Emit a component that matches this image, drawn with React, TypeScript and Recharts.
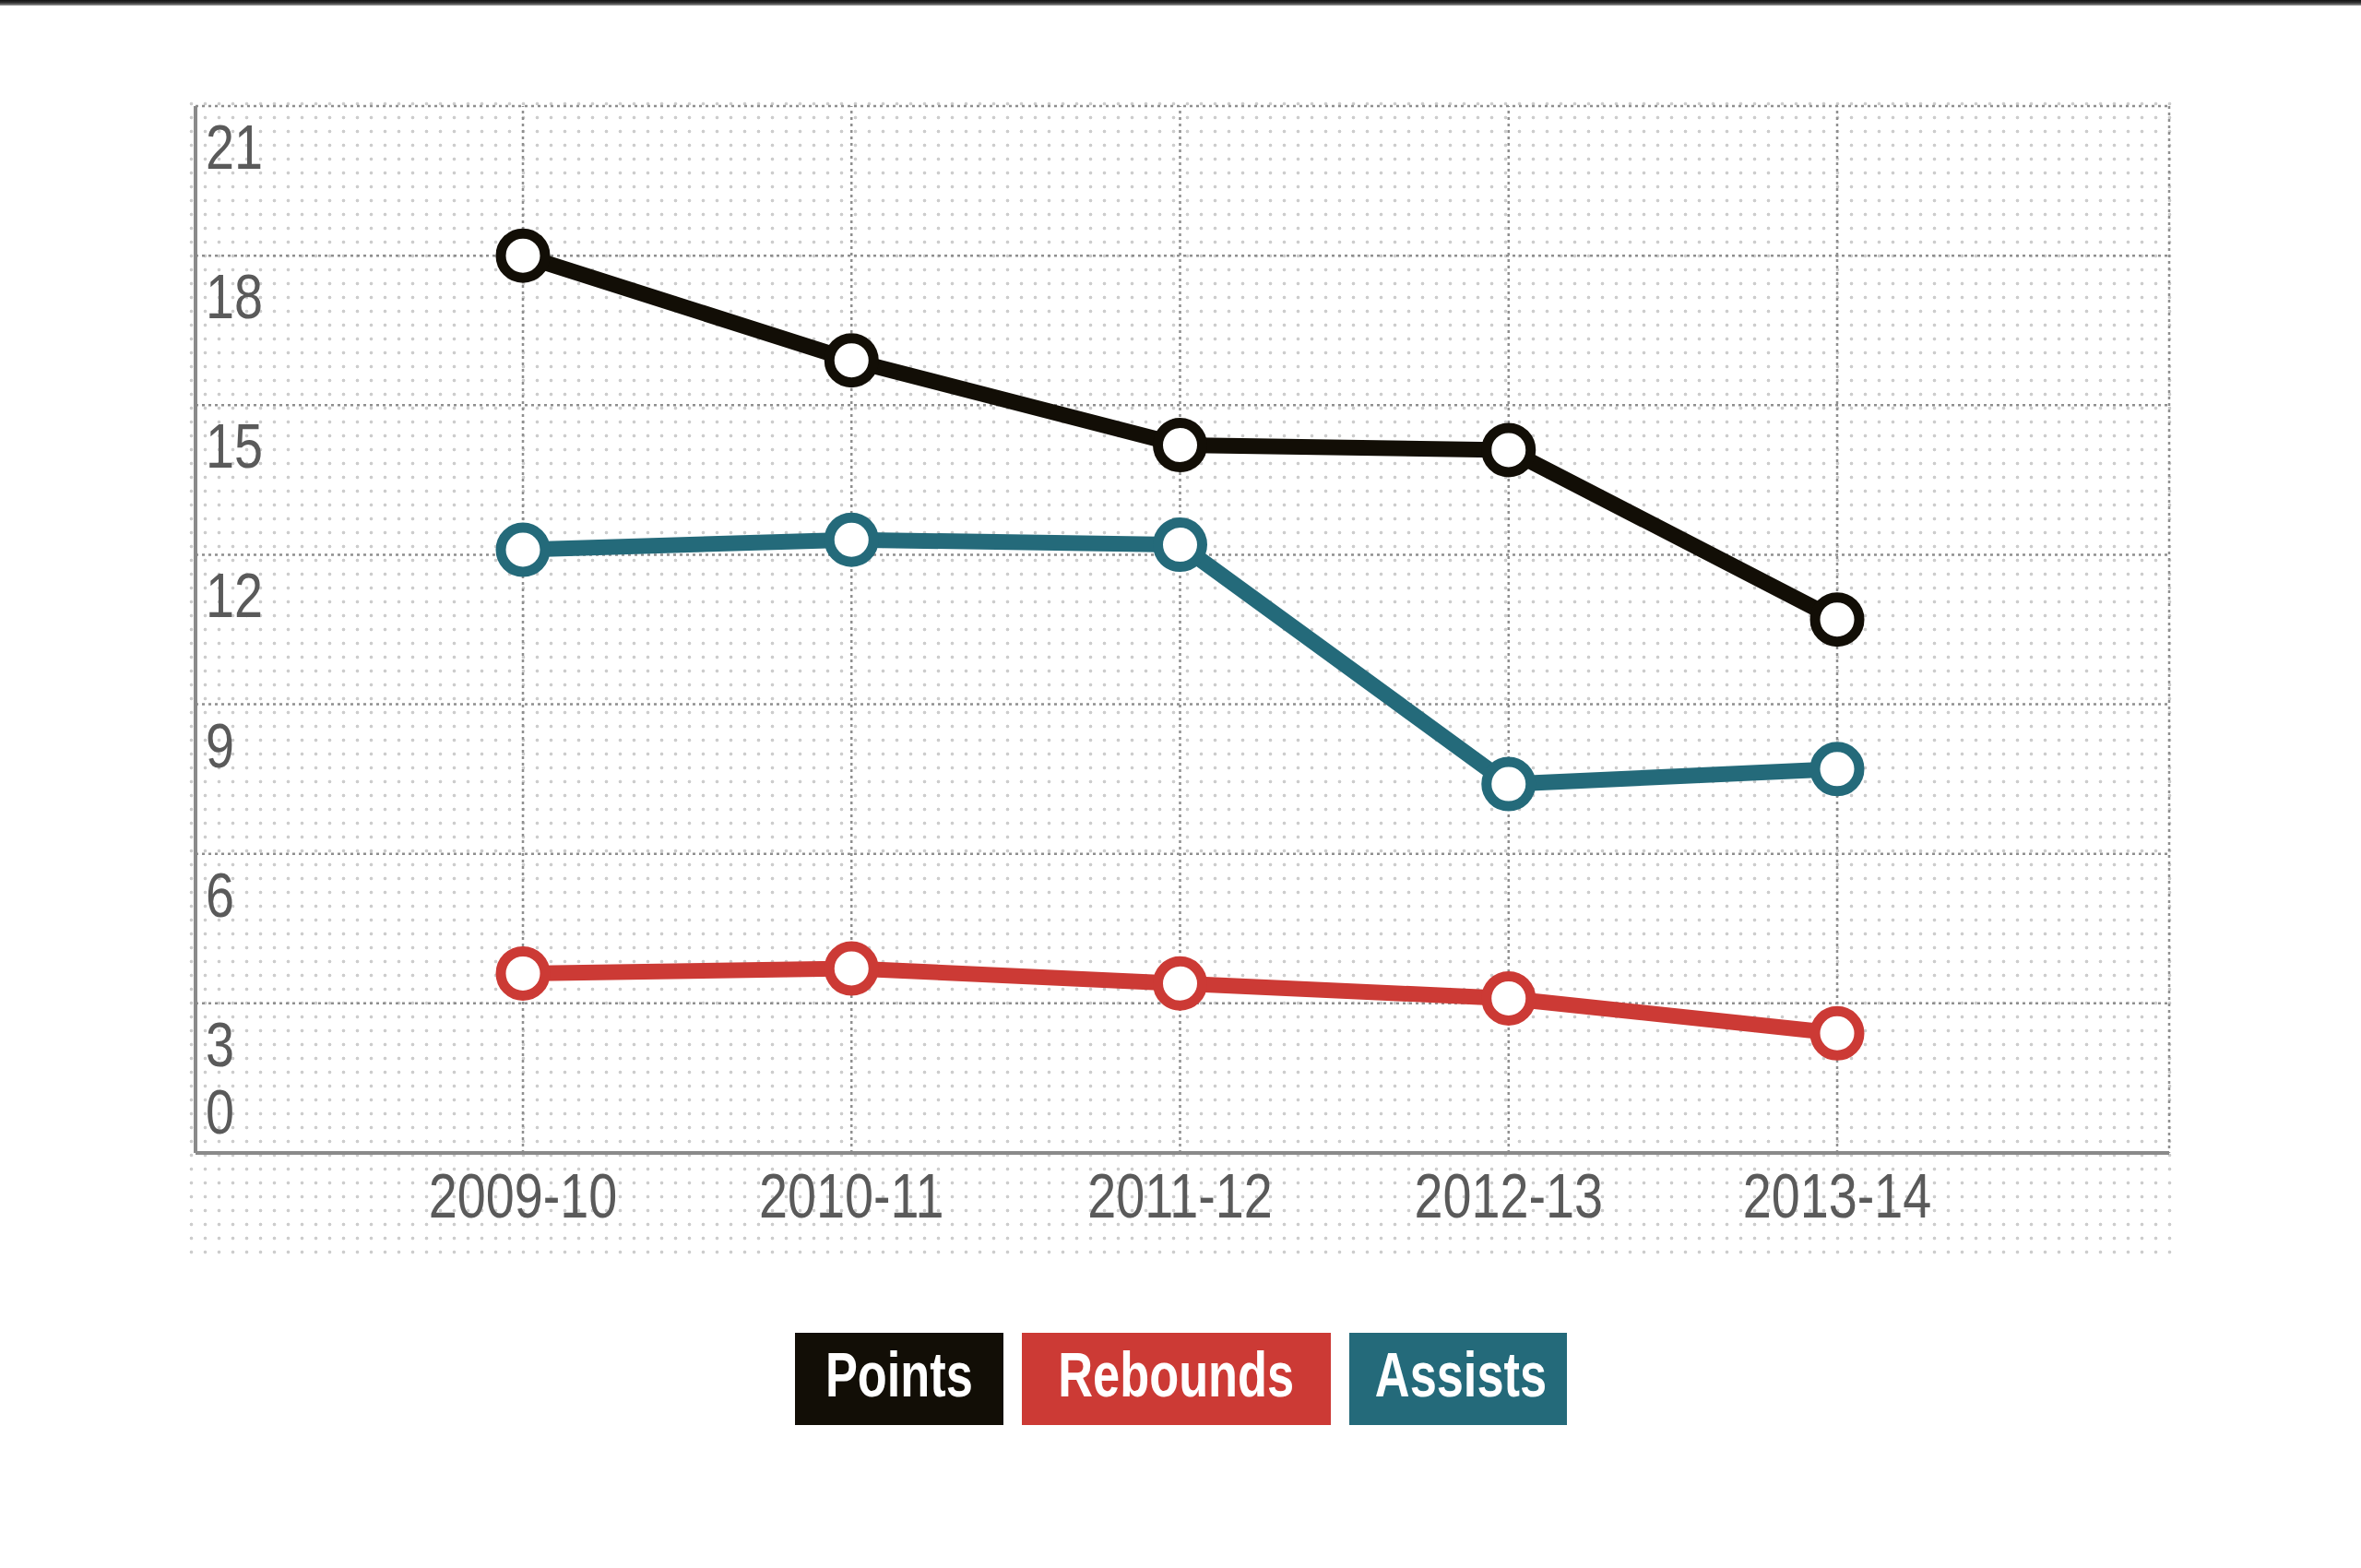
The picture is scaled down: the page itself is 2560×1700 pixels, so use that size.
import React from 'react';
import { LineChart, Line, XAxis, YAxis, CartesianGrid, Legend, ReferenceLine } from 'recharts';

const seasons = ['2009-10', '2010-11', '2011-12', '2012-13', '2013-14'];
const points = [18.0, 15.9, 14.2, 14.1, 10.7];
const rebounds = [3.6, 3.7, 3.4, 3.1, 2.4];
const assists = [12.1, 12.3, 12.2, 7.4, 7.7];
const yTicks = [0, 3, 6, 9, 12, 15, 18, 21];
const seriesOrder = ['Points', 'Rebounds', 'Assists'];

const data = seasons.map((s, i) => ({
  season: s,
  Points: points[i],
  Rebounds: rebounds[i],
  Assists: assists[i],
}));

const FONT = '"Liberation Sans", Arial, sans-serif';
const TEXT = '#5a5a5a';
const NARROW = 0.82;
const GRID = '#8f8f8f';
const C_POINTS = '#120e06';
const C_REB = '#cc3a35';
const C_AST = '#246a7a';
const legendWidths: Record<string, number> = { Points: 226, Rebounds: 335, Assists: 236 };

const YTick = (props: any) => {
  const { x, y, payload } = props;
  const v = payload.value;
  const ty = v === 0 ? y - 21 : y + 68;
  return (
    <text transform={`translate(${x + 11},${ty}) scale(${NARROW},1)`} textAnchor="start" fill={TEXT} fontSize={68} fontFamily={FONT}>
      {v}
    </text>
  );
};

const XTick = (props: any) => {
  const { x, y, payload } = props;
  return (
    <text transform={`translate(${x},${y + 70}) scale(${NARROW},1)`} textAnchor="middle" fill={TEXT} fontSize={68} fontFamily={FONT}>
      {payload.value}
    </text>
  );
};

const renderLegend = (props: any) => {
  const items = [...(props.payload || [])].sort(
    (a: any, b: any) => seriesOrder.indexOf(a.value) - seriesOrder.indexOf(b.value)
  );
  return (
    <div style={{ display: 'flex', justifyContent: 'center', gap: 20 }}>
      {items.map((e: any) => (
        <div
          key={e.value}
          style={{
            background: e.color,
            color: '#fff',
            width: legendWidths[e.value] || 240,
            height: 100,
            lineHeight: '90px',
            textAlign: 'center',
            fontFamily: FONT,
            fontSize: 68,
            fontWeight: 'bold',
            whiteSpace: 'nowrap',
          }}
        >
          <span style={{ display: 'inline-block', transform: 'scaleX(0.77)', transformOrigin: 'center' }}>{e.value}</span>
        </div>
      ))}
    </div>
  );
};

const gridRightEdge = (props: any) => {
  const { offset } = props;
  return [offset.left + offset.width];
};

const dotStyle = (color: string) => ({ r: 24, fill: '#fff', stroke: color, strokeWidth: 11 });

export default function App() {
  return (
    <div style={{ position: 'absolute', left: 0, top: 0, width: 2560, height: 1700, background: '#fff', overflow: 'hidden' }}>
      <div
        style={{
          position: 'absolute',
          left: 0,
          top: 0,
          width: 2560,
          height: 6,
          background: 'linear-gradient(to bottom, #111 0%, #333 50%, #999 100%)',
        }}
      />
      <div
        style={{
          position: 'absolute',
          left: 200,
          top: 105,
          width: 2160,
          height: 1260,
          backgroundImage: 'radial-gradient(circle, #cdcdcd 1.7px, transparent 2.1px)',
          backgroundSize: '15px 15px',
        }}
      />
      <div style={{ position: 'absolute', left: 0, top: 0 }}>
        <LineChart width={2560} height={1700} data={data} margin={{ top: 115, right: 208, bottom: 420, left: 212 }}>
          <CartesianGrid stroke={GRID} strokeWidth={2.5} strokeDasharray="3 4" verticalCoordinatesGenerator={gridRightEdge} />
          <XAxis
            dataKey="season"
            padding={{ left: 355, right: 360 }}
            axisLine={{ stroke: '#8a8a8a', strokeWidth: 4 }}
            tickLine={false}
            tickSize={0}
            tickMargin={0}
            interval={0}
            height={30}
            tick={<XTick />}
          />
          <YAxis
            domain={[0, 21]}
            ticks={yTicks}
            interval={0}
            mirror
            axisLine={{ stroke: '#8a8a8a', strokeWidth: 4 }}
            tickLine={false}
            tickSize={0}
            tickMargin={0}
            tick={<YTick />}
          />
          {seasons.map((s) => (
            <ReferenceLine key={s} x={s} stroke={GRID} strokeWidth={2.5} strokeDasharray="3 4" />
          ))}
          <Line
            dataKey="Points"
            stroke={C_POINTS}
            strokeWidth={17}
            dot={dotStyle(C_POINTS)}
            activeDot={false}
            isAnimationActive={false}
          />
          <Line
            dataKey="Rebounds"
            stroke={C_REB}
            strokeWidth={17}
            dot={dotStyle(C_REB)}
            activeDot={false}
            isAnimationActive={false}
          />
          <Line
            dataKey="Assists"
            stroke={C_AST}
            strokeWidth={17}
            dot={dotStyle(C_AST)}
            activeDot={false}
            isAnimationActive={false}
          />
          <Legend
            layout="horizontal"
            verticalAlign="middle"
            align="center"
            content={renderLegend}
            wrapperStyle={{ top: 1445, left: 0, width: 2560 }}
          />
        </LineChart>
      </div>
    </div>
  );
}
